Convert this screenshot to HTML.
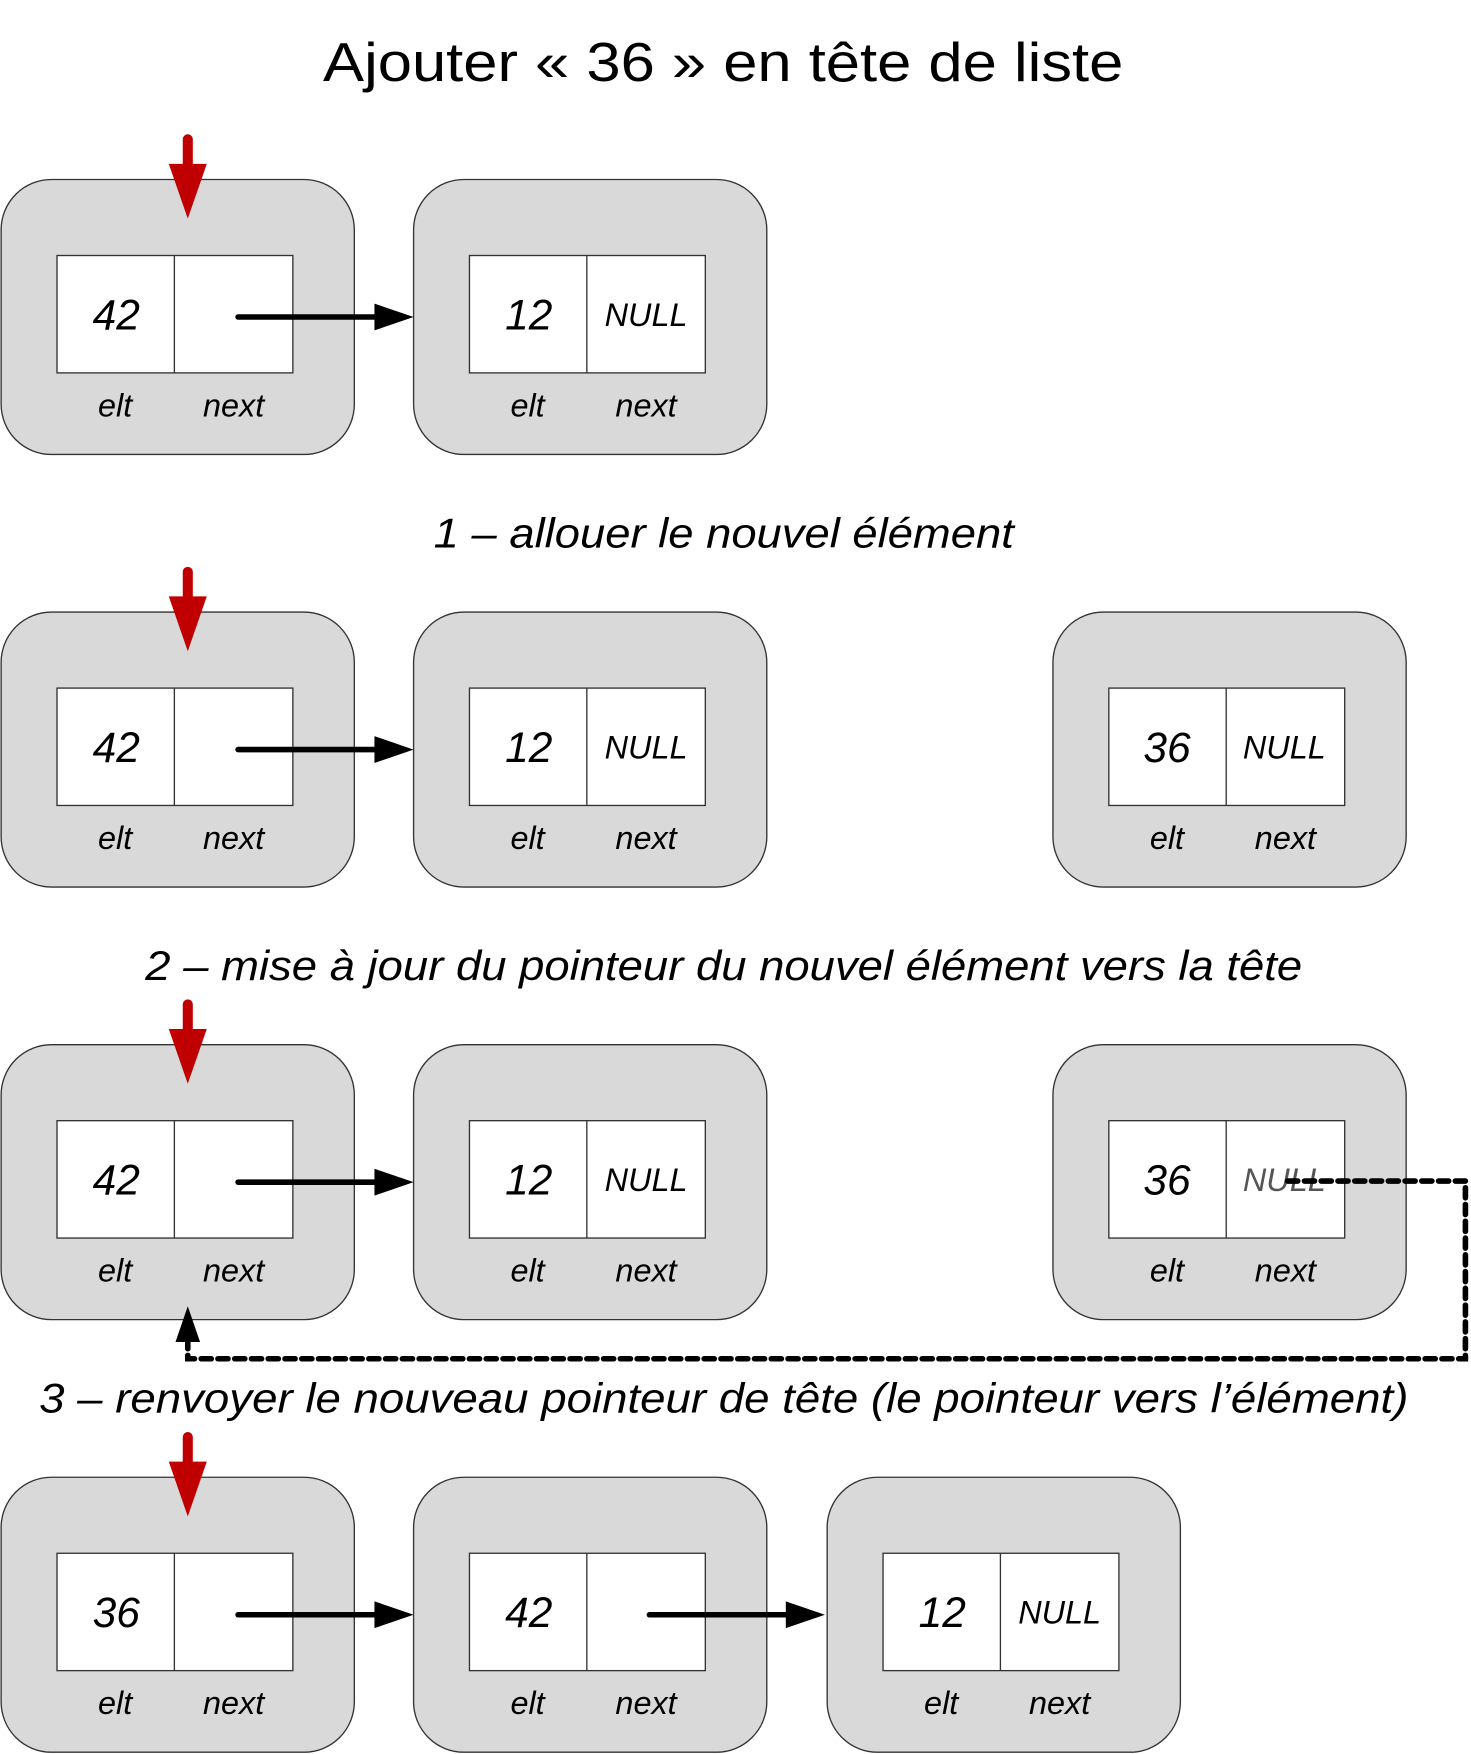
<!DOCTYPE html>
<html><head><meta charset="utf-8"><style>html,body{margin:0;padding:0;background:#fff}svg{display:block}</style></head>
<body>
<svg width="1471" height="1754" viewBox="0 0 1316 1568" xmlns="http://www.w3.org/2000/svg" font-family="Liberation Sans, sans-serif">
<defs>
<g id="node">
<rect x="1" y="0" width="316" height="246" rx="45" ry="45" fill="#d9d9d9" stroke="#333" stroke-width="1.2"/>
<rect x="51" y="68" width="211" height="105" fill="#fff" stroke="#333" stroke-width="1.2"/>
<line x1="156" y1="68" x2="156" y2="173" stroke="#333" stroke-width="1.2"/>
<text x="103" y="212" font-size="29" font-style="italic" text-anchor="middle">elt</text>
<text x="209" y="212" font-size="29" font-style="italic" text-anchor="middle">next</text>
</g>
<g id="red"><line x1="168" y1="124" x2="168" y2="150" stroke="#c00000" stroke-width="9" stroke-linecap="round"/><polygon points="151,146 185,146 168,195" fill="#c00000"/></g>
<g id="blk"><line x1="213" y1="283" x2="340" y2="283" stroke="#000" stroke-width="5" stroke-linecap="round"/><polygon points="335,271 370,283 335,295" fill="#000"/></g>
</defs>
<text x="289" y="72" font-size="49" textLength="716" lengthAdjust="spacingAndGlyphs">Ajouter « 36 » en tête de liste</text>

<!-- row1 -->
<use href="#node" x="0" y="160"/><use href="#node" x="369" y="160"/>
<use href="#red"/><use href="#blk"/>
<g font-style="italic" text-anchor="middle">
<text x="104" y="294" font-size="38">42</text><text x="473" y="294" font-size="38">12</text><text x="578" y="291" font-size="29">NULL</text>
</g>

<text x="388" y="489" font-size="37" font-style="italic" textLength="519" lengthAdjust="spacingAndGlyphs">1 – allouer le nouvel élément</text>
<g transform="translate(0,387)">
<use href="#node" x="0" y="160"/><use href="#node" x="369" y="160"/><use href="#node" x="941" y="160"/>
<use href="#red"/><use href="#blk"/>
<g font-style="italic" text-anchor="middle">
<text x="104" y="294" font-size="38">42</text><text x="473" y="294" font-size="38">12</text><text x="578" y="291" font-size="29">NULL</text>
<text x="1044" y="294" font-size="38">36</text><text x="1149" y="291" font-size="29">NULL</text>
</g></g>

<text x="130" y="876" font-size="37" font-style="italic" textLength="1035" lengthAdjust="spacingAndGlyphs">2 – mise à jour du pointeur du nouvel élément vers la tête</text>
<g transform="translate(0,774)">
<use href="#node" x="0" y="160"/><use href="#node" x="369" y="160"/><use href="#node" x="941" y="160"/>
<use href="#red"/><use href="#blk"/>
<g font-style="italic" text-anchor="middle">
<text x="104" y="294" font-size="38">42</text><text x="473" y="294" font-size="38">12</text><text x="578" y="291" font-size="29">NULL</text>
<text x="1044" y="294" font-size="38">36</text><text x="1149" y="291" font-size="29" fill="#555">NULL</text>
</g></g>
<polyline points="1152,1056 1311,1056 1311,1215 168,1215 168,1195" fill="none" stroke="#000" stroke-width="5" stroke-dasharray="9,6" stroke-linecap="round"/>
<polygon points="157,1200 179,1200 168,1168" fill="#000"/>

<text x="35" y="1263" font-size="37" font-style="italic" textLength="1225" lengthAdjust="spacingAndGlyphs">3 – renvoyer le nouveau pointeur de tête (le pointeur vers l’élément)</text>
<g transform="translate(0,1161)">
<use href="#node" x="0" y="160"/><use href="#node" x="369" y="160"/><use href="#node" x="739" y="160"/>
<use href="#red"/><use href="#blk"/><use href="#blk" x="368"/>
<g font-style="italic" text-anchor="middle">
<text x="104" y="294" font-size="38">36</text><text x="473" y="294" font-size="38">42</text>
<text x="843" y="294" font-size="38">12</text><text x="948" y="291" font-size="29">NULL</text>
</g></g>
</svg>
</body></html>
